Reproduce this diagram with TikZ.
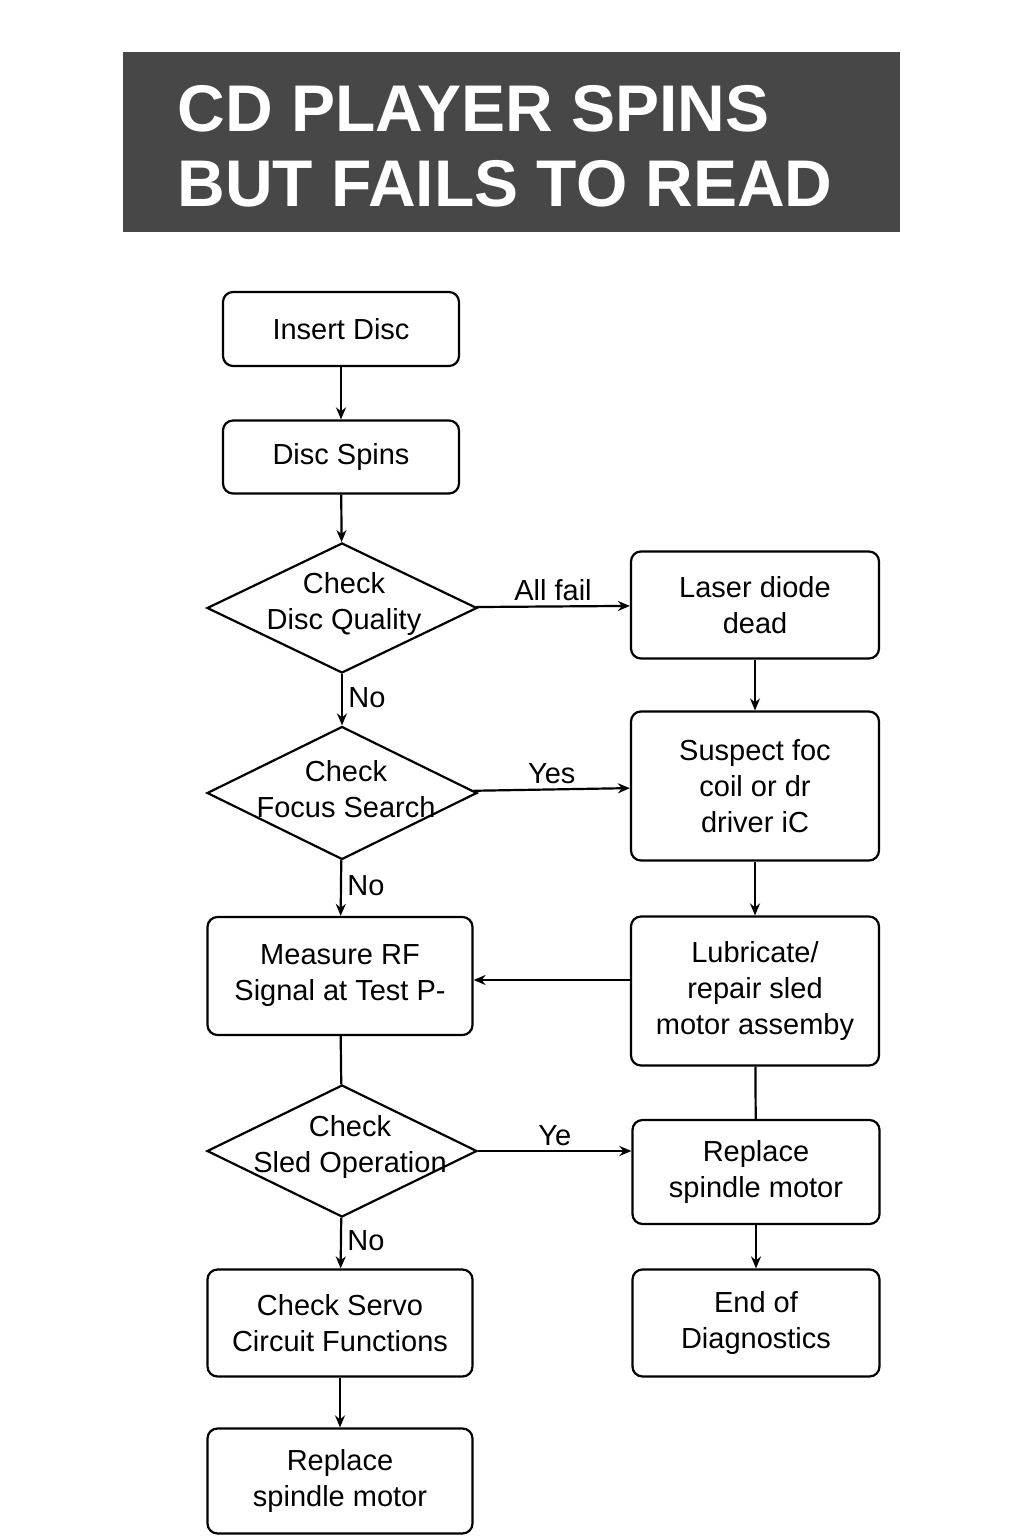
\documentclass[tikz,border=0pt]{standalone}
\usepackage{fontspec}
\setmainfont{Liberation Sans}
\usetikzlibrary{shapes.geometric,arrows.meta}
\begin{document}
\begin{tikzpicture}[x=1pt,y=-1pt,
  box/.style={draw,line width=2.2pt,rounded corners=10pt,align=center,inner sep=0pt,font=\fontsize{29}{36}\selectfont},
  dia/.style={draw,line width=2.2pt,diamond,aspect=2.07,inner sep=0pt,align=center,font=\fontsize{29}{36}\selectfont},
  arr/.style={line width=2.2pt,-{Stealth[length=12pt,width=10pt]}},
  ln/.style={line width=2.2pt},
  lab/.style={font=\fontsize{29}{36}\selectfont}]
\fill[white] (0,0) rectangle (1024,1536);
\fill[fill={rgb,255:red,71;green,71;blue,71}] (123,52) rectangle (900,232);
\node[anchor=west,text=white,align=left,font=\bfseries\fontsize{66}{75}\selectfont] (title) at (174,146) {CD PLAYER SPINS\\BUT FAILS TO READ};
\node[box,minimum width=236pt,minimum height=74pt] (ins) at (341,329) {Insert Disc};
\node[box,minimum width=236pt,minimum height=73pt] (spin) at (341,457) {Disc Spins};
\node[dia,minimum width=270pt,minimum height=130pt] (d1) at (342,608) {};
\node[lab,align=center] (d1t) at (344,604) {Check\\Disc Quality};
\node[box,minimum width=248pt,minimum height=107pt] (laser) at (755,605) {Laser diode\\dead};
\node[dia,minimum width=270pt,minimum height=133pt] (d2) at (342,793) {};
\node[lab,align=center] (d2t) at (346,789) {Check\\Focus Search};
\node[box,minimum width=248pt,minimum height=149pt] (sus) at (755,786) {Suspect foc\\coil or dr\\driver iC};
\node[box,minimum width=265pt,minimum height=118pt] (meas) at (340,976) {Measure RF\\Signal at Test P-};
\node[box,minimum width=248pt,minimum height=149pt] (lub) at (755,991) {Lubricate/\\repair sled\\motor assemby};
\node[dia,minimum width=270pt,minimum height=132pt] (d3) at (342,1151) {};
\node[lab,align=center] (d3t) at (350,1147) {Check\\Sled Operation};
\node[box,minimum width=247pt,minimum height=104pt] (rep1) at (756,1172) {Replace\\spindle motor};
\node[box,minimum width=247pt,minimum height=107pt] (end) at (756,1323) {End of\\Diagnostics};
\node[box,minimum width=265pt,minimum height=107pt] (serv) at (340,1323) {Check Servo\\Circuit Functions};
\node[box,minimum width=265pt,minimum height=105pt] (rep2) at (340,1481) {Replace\\spindle motor};
\draw[arr] (ins) -- (spin);
\draw[arr] (spin) -- (d1);
\draw[arr] (d1) -- (laser) node[lab,midway,above=1pt] (l1) {All fail};
\draw[arr] (d1) -- (d2) node[lab,pos=0.45,right=2pt] (l2) {No};
\draw[arr] (d2) -- (sus) node[lab,midway,above=1pt] (l3) {Yes};
\draw[arr] (laser) -- (sus);
\draw[arr] (sus) -- (lub);
\draw[arr] (d2) -- (meas) node[lab,pos=0.45,right=2pt] (l4) {No};
\draw[arr] (lub.west |- 0,980) -- (meas.east |- 0,980);
\draw[ln] (meas) -- (d3);
\draw[arr] (d3) -- (rep1.west |- d3) node[lab,midway,above=1pt] (l5) {Ye};
\draw[ln] (lub) -- (rep1);
\draw[arr] (rep1) -- (end);
\draw[arr] (d3) -- (serv) node[lab,pos=0.45,right=2pt] (l6) {No};
\draw[arr] (serv) -- (rep2);
\end{tikzpicture}
\end{document}
